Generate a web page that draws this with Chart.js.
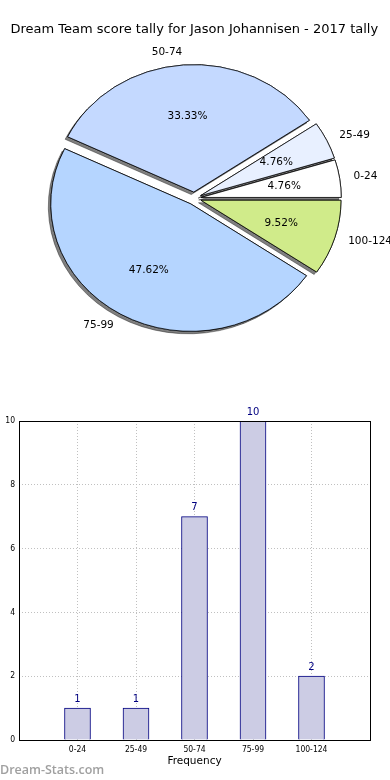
<!DOCTYPE html>
<html>
<head>
<meta charset="utf-8">
<script src="https://cdn.jsdelivr.net/npm/chart.js@4"></script>
<style>
  body { margin: 0; background: #fff; }
  #wrap { position: relative; width: 390px; height: 780px; overflow: hidden; }
  #pieBox { position: absolute; left: 0; top: 0; width: 390px; height: 400px; }
  #barBox { position: absolute; left: 0; top: 400px; width: 390px; height: 380px; }
  #mark { position: absolute; left: 0; top: 761px; font: 600 12.5px 'Open Sans', sans-serif; color: #a0a0a0; }
</style>
</head>
<body>
<div id="wrap">
  <div id="pieBox"><canvas id="pie"></canvas></div>
  <div id="barBox"><canvas id="bars"></canvas></div>
  <div id="mark">Dream-Stats.com</div>
</div>
<script>
const titulo = 'Dream Team score tally for Jason Johannisen - 2017 tally';
const categories = ['0-24', '25-49', '50-74', '75-99', '100-124'];
const counts = [1, 1, 7, 10, 2];
const pieColors = ['#ffffff', '#e8f0ff', '#c4d9ff', '#b5d5ff', '#d0eb8a'];
const yTicks = [0, 2, 4, 6, 8, 10];

const explode = 0.05;
const squash = 0.91; // la torta de matplotlib sale achatada
const total = counts.reduce((a, b) => a + b, 0);
const fuenteEje = { family: "'DejaVu Sans Condensed', 'DejaVu Sans', sans-serif", size: 8.5 };

// chart.js gira en sentido horario, matplotlib al reves
const pieLabels = categories.slice().reverse();
const pieValues = counts.slice().reverse();
const pieFill = pieColors.slice().reverse();

const tortaPlugin = {
  id: 'torta',
  beforeDatasetDraw(chart, args) {
    const ctx = chart.ctx;
    const arcs = args.meta.data;
    const cy = arcs[0].y;
    ctx.save();
    ctx.translate(0, cy);
    ctx.scale(1, squash);
    ctx.translate(0, -cy);
    [true, false].forEach(sombra => {
      arcs.forEach(arc => {
        const mid = (arc.startAngle + arc.endAngle) / 2;
        const d = explode * arc.outerRadius;
        ctx.save();
        ctx.translate(Math.cos(mid) * d, Math.sin(mid) * d);
        if (sombra) {
          ctx.shadowColor = 'rgba(0,0,0,0.5)';
          ctx.shadowOffsetX = -2.5;
          ctx.shadowOffsetY = 2.5;
        }
        arc.draw(ctx);
        ctx.restore();
      });
    });
    ctx.restore();
    return false;
  },
  afterDatasetsDraw(chart) {
    const ctx = chart.ctx;
    const meta = chart.getDatasetMeta(0);
    ctx.save();
    ctx.fillStyle = '#000';
    ctx.font = '10.5px "DejaVu Sans"';
    ctx.textBaseline = 'middle';
    meta.data.forEach((arc, i) => {
      const mid = (arc.startAngle + arc.endAngle) / 2;
      const rx = arc.outerRadius, ry = rx * squash;
      const c = Math.cos(mid), s = Math.sin(mid);
      ctx.textAlign = c >= 0 ? 'left' : 'right';
      ctx.fillText(pieLabels[i], arc.x + c * (1.1 + explode) * rx, arc.y + s * (1.1 + explode) * ry);
      ctx.textAlign = 'center';
      const pct = (pieValues[i] / total * 100).toFixed(2) + '%';
      ctx.fillText(pct, arc.x + c * (0.6 + explode) * rx, arc.y + s * (0.6 + explode) * ry);
    });
    ctx.restore();
  }
};

new Chart(document.getElementById('pie').getContext('2d'), {
  type: 'pie',
  data: {
    labels: pieLabels,
    datasets: [{
      data: pieValues,
      backgroundColor: pieFill,
      borderColor: '#000',
      borderWidth: 0.8
    }]
  },
  options: {
    responsive: true,
    maintainAspectRatio: false,
    animation: false,
    rotation: 90,
    radius: 140,
    layout: { padding: { left: 0, right: 1.4, top: 0, bottom: 40.8 } },
    plugins: {
      legend: { display: false },
      tooltip: { enabled: false },
      title: {
        display: true,
        text: titulo,
        color: '#000',
        font: { family: 'DejaVu Sans', size: 13, weight: 'normal' },
        padding: { top: 22, bottom: 0 }
      }
    }
  },
  plugins: [tortaPlugin]
});

const marcoPlugin = {
  id: 'marco',
  afterDraw(chart) {
    const { ctx, chartArea: a } = chart;
    ctx.save();
    ctx.strokeStyle = '#000';
    ctx.lineWidth = 1;
    ctx.strokeRect(Math.round(a.left) + 0.5, Math.round(a.top) + 0.5, Math.round(a.right - a.left), Math.round(a.bottom - a.top));
    // valores encima de cada barra
    const meta = chart.getDatasetMeta(0);
    ctx.fillStyle = '#000080';
    ctx.font = '10px "DejaVu Sans"';
    ctx.textAlign = 'center';
    ctx.textBaseline = 'middle';
    meta.data.forEach((bar, i) => {
      const v = chart.data.datasets[0].data[i];
      if (v == null) return;
      ctx.fillText(String(v), bar.x, bar.y - 9);
    });
    ctx.restore();
  }
};

new Chart(document.getElementById('bars').getContext('2d'), {
  type: 'bar',
  data: {
    labels: ['', ...categories, ''],
    datasets: [{
      data: [null, ...counts, null],
      backgroundColor: 'rgb(204,204,228)',
      borderColor: '#000080',
      borderWidth: 1,
      barThickness: 26
    }]
  },
  options: {
    responsive: true,
    maintainAspectRatio: false,
    animation: false,
    layout: { padding: { left: 0, right: 20, top: 21, bottom: 0 } },
    plugins: { legend: { display: false }, tooltip: { enabled: false } },
    scales: {
      x: {
        offset: false,
        z: 1,
        afterFit: s => { s.height = 40; },
        grid: { offset: false, color: '#c0c0c0', drawTicks: false },
        border: { display: false, dash: [1, 2] },
        ticks: { autoSkip: false, maxRotation: 0, padding: 5, color: '#000', font: fuenteEje },
        title: {
          display: true, text: 'Frequency', color: '#000',
          font: { family: 'DejaVu Sans', size: 10.5 },
          padding: { top: 0, bottom: 12 }
        }
      },
      y: {
        min: 0,
        max: 10,
        z: 1,
        afterFit: s => { s.width = 19; },
        afterBuildTicks: s => { s.ticks = yTicks.map(v => ({ value: v })); },
        grid: { color: '#c0c0c0', drawTicks: false },
        border: { display: false, dash: [1, 2] },
        ticks: { padding: 4, color: '#000', font: fuenteEje }
      }
    }
  },
  plugins: [marcoPlugin]
});
</script>
</body>
</html>
